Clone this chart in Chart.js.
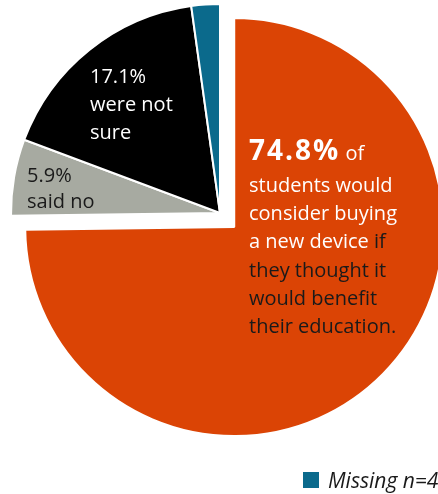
<!DOCTYPE html>
<html>
<head>
<meta charset="utf-8">
<script src="https://cdn.jsdelivr.net/npm/chart.js@4.4.1/dist/chart.umd.min.js"></script>
<style>
  body { margin: 0; background: #fff; }
  canvas { display: block; }
</style>
</head>
<body>
<canvas id="device_chart" width="438" height="494"></canvas>
<script>
var categories = ["Would consider buying", "Said no", "Were not sure", "Missing"];
var shares = [74.8, 5.9, 17.1, 2.2];
var sliceColors = ["#DB4405", "#A7AAA1", "#000000", "#0B6A8C"];
var missingLabel = "Missing n=4";

var notSureLines = ["17.1%", "were not", "sure"];
var saidNoLines = ["5.9%", "said no"];
var mainPercent = "74.8%";
// each line: [white part, dark part]
var mainLines = [
  ["students would", ""],
  ["consider buying", ""],
  ["a new device ", "if"],
  ["", "they thought it"],
  ["", "would benefit"],
  ["", "their education."]
];

var FONT = "'Open Sans', 'Noto Sans', sans-serif";
var DARK = "#1a1a1a";
var explode = [20, 0, 0, 0]; // px the slice is pulled out along its middle angle

// pull the big slice out of the pie (chart.js "offset" also grows the radius)
var explodePlugin = {
  id: "explode",
  afterDatasetsUpdate: function (chart) {
    var meta = chart.getDatasetMeta(0);
    meta.data.forEach(function (arc, i) {
      var d = explode[i];
      if (!d) return;
      var mid = (arc.startAngle + arc.endAngle) / 2;
      arc.x += Math.cos(mid) * d;
      arc.y += Math.sin(mid) * d;
    });
  }
};

var labelPlugin = {
  id: "sliceText",
  afterDraw: function (chart) {
    var c = chart.ctx;
    c.save();
    c.textAlign = "left";
    c.textBaseline = "alphabetic";

    // black slice
    c.font = "20px " + FONT;
    c.fillStyle = "#ffffff";
    var y = [83, 111, 139];
    notSureLines.forEach(function (t, i) { c.fillText(t, 90, y[i]); });

    // gray slice
    c.fillStyle = DARK;
    c.fillText(saidNoLines[0], 27, 182);
    c.fillText(saidNoLines[1], 27, 208);

    // orange slice
    c.font = "bold 28px " + FONT;
    c.letterSpacing = "2px";
    c.fillStyle = "#ffffff";
    c.fillText(mainPercent, 249, 160);
    var w = c.measureText(mainPercent).width;
    c.letterSpacing = "0px";
    c.font = "20px " + FONT;
    c.fillText(" of", 249 + w, 160);
    var base = 192;
    mainLines.forEach(function (parts, i) {
      var yy = base + i * 28.2;
      c.fillStyle = "#ffffff";
      c.fillText(parts[0], 249, yy);
      var pw = c.measureText(parts[0]).width;
      c.fillStyle = DARK;
      c.fillText(parts[1], 249 + pw, yy);
    });

    // legend
    c.fillStyle = sliceColors[3];
    c.fillRect(303, 472, 16, 16);
    c.fillStyle = DARK;
    c.font = "italic 21px " + FONT;
    c.fillText(missingLabel, 328, 488);
    c.restore();
  }
};

var ctx = document.getElementById("device_chart").getContext("2d");
var device_chart = new Chart(ctx, {
  type: "pie",
  data: {
    labels: categories,
    datasets: [
      {
        data: shares,
        backgroundColor: sliceColors,
        borderColor: "#ffffff",
        borderWidth: 2,
      },
    ],
  },
  options: {
    responsive: false,
    animation: false,
    radius: 209,
    layout: {
      padding: { left: 2, right: 0, top: 0, bottom: 68 },
    },
    plugins: {
      legend: { display: false },
      tooltip: { enabled: false },
    },
    events: [],
  },
  plugins: [explodePlugin, labelPlugin],
});
</script>
</body>
</html>
